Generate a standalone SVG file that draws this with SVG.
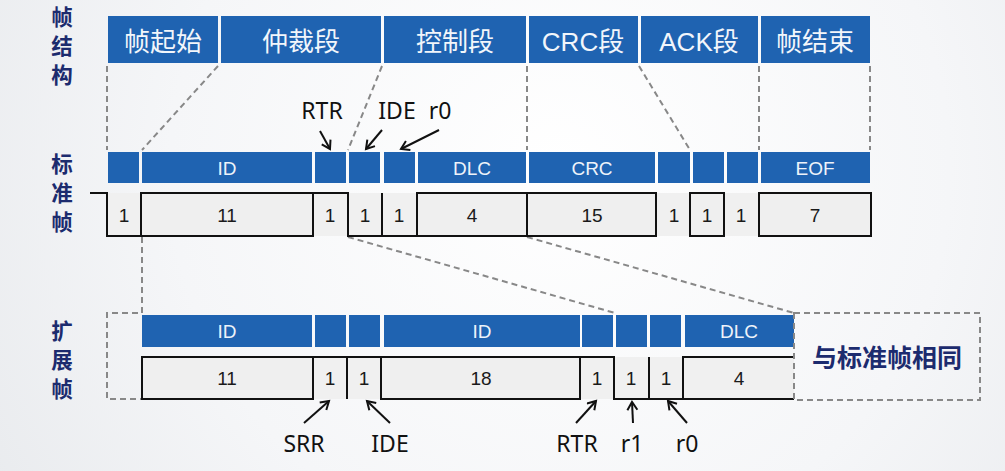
<svg xmlns="http://www.w3.org/2000/svg" width="1005" height="471" viewBox="0 0 1005 471">
<defs>
<radialGradient id="bg" cx="560" cy="170" r="650" gradientUnits="userSpaceOnUse">
<stop offset="0" stop-color="#ffffff"/>
<stop offset="0.6" stop-color="#f5f6f8"/>
<stop offset="1" stop-color="#e9ebee"/>
</radialGradient>
<marker id="ah" markerUnits="userSpaceOnUse" markerWidth="14" markerHeight="14" refX="10" refY="6" orient="auto">
<path d="M2,1 L10,6 L2,11" fill="none" stroke="#111" stroke-width="2"/>
</marker>
<style>
.hd{fill:#1f63b1}
.ht{font-family:"Liberation Sans","Noto Sans CJK SC",sans-serif;font-size:26px;fill:#f2f6fb;text-anchor:middle}
.bt{font-family:"Liberation Sans",sans-serif;font-size:19px;fill:#eef3fa;text-anchor:middle}
.nt{font-family:"Liberation Sans",sans-serif;font-size:19px;fill:#1a1a1a;text-anchor:middle}
.side{font-family:"Noto Sans CJK SC",sans-serif;font-size:21.5px;font-weight:bold;fill:#1c2b6e;text-anchor:middle}
.lb{font-family:"Noto Sans",sans-serif;font-size:23px;fill:#111;text-anchor:middle}
.wf{fill:none;stroke:#111;stroke-width:2}
.box{fill:#efefef;stroke:#111;stroke-width:2}
.dash{fill:none;stroke:#888;stroke-width:2;stroke-dasharray:6 4}
.arr{fill:none;stroke:#111;stroke-width:2;marker-end:url(#ah)}
</style>
</defs>
<rect x="0" y="0" width="1005" height="471" fill="url(#bg)"/>

<g id="side-labels">
<text class="side" x="62" y="25">帧<tspan x="62" dy="29">结</tspan><tspan x="62" dy="29">构</tspan></text>
<text class="side" x="62" y="172">标<tspan x="62" dy="29">准</tspan><tspan x="62" dy="29">帧</tspan></text>
<text class="side" x="62" y="339">扩<tspan x="62" dy="29">展</tspan><tspan x="62" dy="29">帧</tspan></text>
</g>

<g id="frame-structure">
<rect class="hd" x="108" y="16" width="110" height="47"/>
<rect class="hd" x="221" y="16" width="160" height="47"/>
<rect class="hd" x="384" y="16" width="142" height="47"/>
<rect class="hd" x="529" y="16" width="109" height="47"/>
<rect class="hd" x="641" y="16" width="117" height="47"/>
<rect class="hd" x="761" y="16" width="109" height="47"/>
<text class="ht" x="163" y="51">帧起始</text>
<text class="ht" x="301" y="51">仲裁段</text>
<text class="ht" x="455" y="51">控制段</text>
<text class="ht" x="583" y="51">CRC段</text>
<text class="ht" x="699" y="51">ACK段</text>
<text class="ht" x="815" y="51">帧结束</text>
</g>

<g id="connectors">
<path class="dash" d="M107,66 V150"/>
<path class="dash" d="M218,66 L142,150"/>
<path class="dash" d="M382,66 L348,150"/>
<path class="dash" d="M527,66 V150"/>
<path class="dash" d="M639,66 L690,150"/>
<path class="dash" d="M759,66 V150"/>
<path class="dash" d="M870,66 V150"/>
<path class="dash" d="M348,237 L615,313"/>
<path class="dash" d="M527,237 L794,313"/>
<path class="dash" d="M142,237 V313 H107 V399 H142"/>
<path class="arr" d="M320,131 L330,149"/>
<path class="arr" d="M382,130 L366,149"/>
<path class="arr" d="M439,130 L401,149"/>
<path class="arr" d="M304,423 L329,401"/>
<path class="arr" d="M390,423 L367,401"/>
<path class="arr" d="M576,423 L596,401"/>
<path class="arr" d="M633,423 L632,402"/>
<path class="arr" d="M687,423 L668,401"/>
</g>

<g id="standard-frame">
<rect class="hd" x="108" y="152" width="31" height="31"/>
<rect class="hd" x="142" y="152" width="170" height="31"/>
<rect class="hd" x="315" y="152" width="31" height="31"/>
<rect class="hd" x="349" y="152" width="31" height="31"/>
<rect class="hd" x="384" y="152" width="31" height="31"/>
<rect class="hd" x="418" y="152" width="108" height="31"/>
<rect class="hd" x="529" y="152" width="126" height="31"/>
<rect class="hd" x="658" y="152" width="32" height="31"/>
<rect class="hd" x="693" y="152" width="31" height="31"/>
<rect class="hd" x="727" y="152" width="31" height="31"/>
<rect class="hd" x="761" y="152" width="109" height="31"/>
<text class="bt" x="227" y="175">ID</text>
<text class="bt" x="472" y="175">DLC</text>
<text class="bt" x="592" y="175">CRC</text>
<text class="bt" x="815" y="175">EOF</text>
<rect x="107" y="193" width="764" height="43" fill="#f0f0f0"/>
<path class="wf" d="M90,193 H107 V236 H141"/>
<rect class="box" x="141" y="193" width="172" height="43"/>
<path class="wf" d="M313,193 H348 V236 H417"/>
<path class="wf" d="M382,193 V236"/>
<rect class="box" x="417" y="193" width="110" height="43"/>
<rect class="box" x="527" y="193" width="129" height="43"/>
<rect class="box" x="690" y="193" width="34" height="43"/>
<rect class="box" x="759" y="193" width="112" height="43"/>
<text class="nt" x="124" y="222">1</text>
<text class="nt" x="227" y="222">11</text>
<text class="nt" x="330" y="222">1</text>
<text class="nt" x="365" y="222">1</text>
<text class="nt" x="399" y="222">1</text>
<text class="nt" x="472" y="222">4</text>
<text class="nt" x="592" y="222">15</text>
<text class="nt" x="674" y="222">1</text>
<text class="nt" x="707" y="222">1</text>
<text class="nt" x="741" y="222">1</text>
<text class="nt" x="815" y="222">7</text>
</g>

<g id="extended-frame">
<rect class="hd" x="142" y="315" width="170" height="32"/>
<rect class="hd" x="315" y="315" width="31" height="32"/>
<rect class="hd" x="349" y="315" width="31" height="32"/>
<rect class="hd" x="384" y="315" width="196" height="32"/>
<rect class="hd" x="582" y="315" width="31" height="32"/>
<rect class="hd" x="616" y="315" width="31" height="32"/>
<rect class="hd" x="650" y="315" width="31" height="32"/>
<rect class="hd" x="685" y="315" width="109" height="32"/>
<text class="bt" x="227" y="338">ID</text>
<text class="bt" x="482" y="338">ID</text>
<text class="bt" x="739" y="338">DLC</text>
<rect x="142" y="357" width="652" height="42" fill="#f0f0f0"/>
<rect class="box" x="142" y="357" width="171" height="42"/>
<path class="wf" d="M313,357 H381"/>
<path class="wf" d="M347,357 V399"/>
<rect class="box" x="381" y="357" width="199" height="42"/>
<path class="wf" d="M580,357 H614 V399 H683"/>
<path class="wf" d="M649,357 V399"/>
<path class="wf" d="M794,357 H683 V399 H794"/>
<text class="nt" x="227" y="385">11</text>
<text class="nt" x="330" y="385">1</text>
<text class="nt" x="364" y="385">1</text>
<text class="nt" x="481" y="385">18</text>
<text class="nt" x="597" y="385">1</text>
<text class="nt" x="631" y="385">1</text>
<text class="nt" x="666" y="385">1</text>
<text class="nt" x="739" y="385">4</text>
</g>

<g id="same-as-standard">
<rect class="dash" x="794" y="313" width="186" height="87"/>
<text x="887" y="367" font-family="Noto Sans CJK SC, sans-serif" font-size="25" font-weight="bold" fill="#1c2b6e" text-anchor="middle">与标准帧相同</text>
</g>

<g id="labels">
<text class="lb" x="322" y="119">RTR</text>
<text class="lb" x="397" y="119">IDE</text>
<text class="lb" x="440" y="119">r0</text>
<text class="lb" x="304" y="452">SRR</text>
<text class="lb" x="390" y="452">IDE</text>
<text class="lb" x="577" y="452">RTR</text>
<text class="lb" x="632" y="452">r1</text>
<text class="lb" x="687" y="452">r0</text>
</g>
</svg>
